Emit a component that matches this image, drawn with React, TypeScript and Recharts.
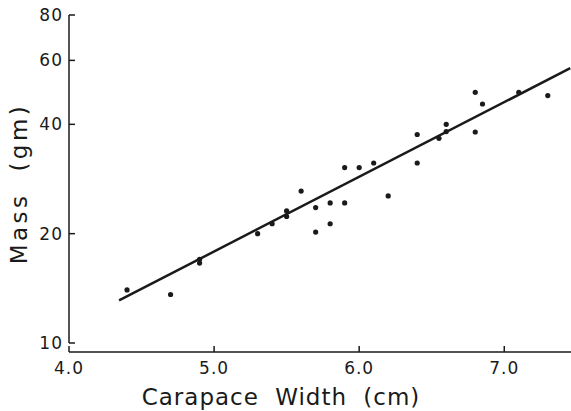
import React from 'react';
import { ScatterChart, Scatter, XAxis, YAxis, ReferenceLine } from 'recharts';

// carapace width (cm) and mass (gm)
const widths = [4.4, 4.7, 4.9, 4.9, 5.3, 5.4, 5.5, 5.5, 5.6, 5.7, 5.7, 5.8, 5.8, 5.9, 5.9, 6.0, 6.1, 6.2, 6.4, 6.4, 6.55, 6.6, 6.6, 6.8, 6.85, 6.8, 7.1, 7.3];
const masses = [14.0, 13.6, 17.0, 16.6, 20.0, 21.3, 23.1, 22.3, 26.2, 23.6, 20.2, 24.3, 21.3, 30.4, 24.3, 30.4, 31.3, 25.4, 37.5, 31.3, 36.6, 40.0, 38.2, 49.0, 45.5, 38.1, 49.0, 48.0];

// regression line end points
const fitWidths = [4.345, 7.455];
const fitMasses = [13.1, 57.1];

const xTicks = [4, 5, 6, 7];
const yTicks = [10, 20, 40, 60, 80];

const points = widths.map((w, i) => ({ width: w, mass: masses[i] }));
const fit = fitWidths.map((w, i) => ({ width: w, mass: fitMasses[i] }));

const font = '"DejaVu Sans", sans-serif';
const ink = '#1a1a1a';

const App: React.FC = () => {
  return (
    <div style={{ position: 'absolute', left: 0, top: 0, background: '#fff' }}>
      <ScatterChart width={571} height={411} margin={{ top: 15, right: 0, bottom: 0, left: 0 }}>
        <XAxis
          type="number"
          dataKey="width"
          domain={[4, 7.46]}
          ticks={xTicks}
          allowDataOverflow
          tickFormatter={(v: number) => v.toFixed(1)}
          height={59}
          stroke={ink}
          strokeWidth={1.5}
          tickSize={-6}
          tickMargin={16}
          tick={{ fill: ink, fontSize: 17, fontFamily: font, letterSpacing: 1 }}
          label={{
            value: 'Carapace Width (cm)',
            position: 'insideBottom',
            offset: 6,
            dx: -39,
            fill: ink,
            fontSize: 23,
            fontFamily: font,
            letterSpacing: 1,
            wordSpacing: 8,
          }}
        />
        <YAxis
          type="number"
          dataKey="mass"
          scale="log"
          domain={[9.445, 80]}
          ticks={yTicks}
          allowDataOverflow
          width={69}
          axisLine={false}
          stroke={ink}
          strokeWidth={1.5}
          tickSize={-6}
          tickMargin={12}
          tick={{ fill: ink, fontSize: 17, fontFamily: font, letterSpacing: 1 }}
          label={{
            value: 'Mass (gm)',
            angle: -90,
            position: 'insideLeft',
            offset: 19,
            fill: ink,
            fontSize: 23,
            fontFamily: font,
            letterSpacing: 3.5,
            wordSpacing: 10,
            style: { textAnchor: 'middle' },
          }}
        />
        <ReferenceLine
          segment={[{ x: 4, y: 10 }, { x: 4, y: 80 }]}
          stroke={ink}
          strokeWidth={1.5}
        />
        <Scatter
          data={fit}
          line={{ stroke: ink, strokeWidth: 2.5 }}
          shape={() => null}
          isAnimationActive={false}
        />
        <Scatter
          data={points}
          fill={ink}
          shape={(p: any) => <circle cx={p.cx} cy={p.cy} r={2.6} fill={ink} />}
          isAnimationActive={false}
        />
      </ScatterChart>
    </div>
  );
};

export default App;
